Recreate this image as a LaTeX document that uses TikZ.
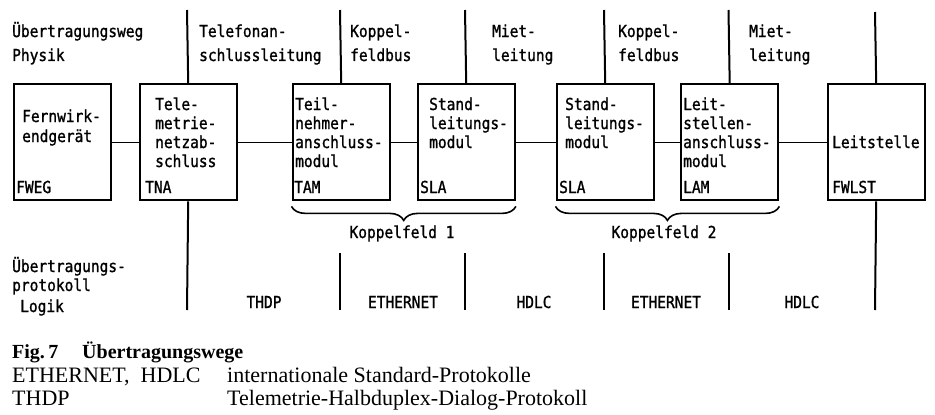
\documentclass[tikz,border=0pt]{standalone}
\usepackage{fontspec}
\setmainfont{Liberation Serif}
\newfontfamily\plotfont[FakeStretch=0.88,FakeBold=1.2]{DejaVu Sans Mono}
\usetikzlibrary{decorations.pathreplacing}

% text block whose reference point is the baseline of its first line
\newcommand{\plotlines}[1]{\begin{tabular}[t]{@{}l@{}}#1\end{tabular}}

\begin{document}
\begin{tikzpicture}[x=1pt,y=-1pt,
  box/.style={draw, line width=2.4pt, minimum width=97pt, minimum height=116pt,
              inner sep=0pt, anchor=north west},
  wire/.style={line width=1.4pt},
  rule/.style={line width=2pt},
  brc/.style={line width=1.6pt, decorate, decoration={brace, mirror, amplitude=14pt}},
  txt/.style={font=\plotfont\fontsize{16.5}{19}\selectfont, inner sep=0pt, anchor=base west},
  head/.style={font=\plotfont\fontsize{16.5}{24}\selectfont, inner sep=0pt, anchor=base west},
  mid/.style={font=\plotfont\fontsize{16.5}{19}\selectfont, inner sep=0pt, anchor=base},
  capb/.style={font=\bfseries\fontsize{20}{24}\selectfont, inner sep=0pt, anchor=base west},
  capr/.style={font=\fontsize{22}{24}\selectfont, inner sep=0pt, anchor=base west}]

\useasboundingbox (0,0) rectangle (935,415);

% boxes
\node[box] (fweg)  at (13,83)    {};
\node[box] (tna)   at (138.5,83) {};
\node[box] (tam)   at (291.5,83) {};
\node[box] (sla1)  at (416.5,83) {};
\node[box] (sla2)  at (555.5,83) {};
\node[box] (lam)   at (680,83)   {};
\node[box] (fwlst) at (826.5,83) {};

% horizontal links between the boxes
\draw[wire] (fweg.east) -- (tna.west);
\draw[wire] (tna.east)  -- (tam.west);
\draw[wire] (tam.east)  -- (sla1.west);
\draw[wire] (sla1.east) -- (sla2.west);
\draw[wire] (sla2.east) -- (lam.west);
\draw[wire] (lam.east)  -- (fwlst.west);

% upper separators (physical paths)
\coordinate (t1) at (187,10);
\coordinate (t2) at (340,10);
\coordinate (t3) at (465,10);
\coordinate (t4) at (604,10);
\coordinate (t5) at (728.5,10);
\coordinate (t6) at (875,12);
\draw[rule] (t1) -- (tna.north);
\draw[rule] (t2) -- (tam.north);
\draw[rule] (t3) -- (sla1.north);
\draw[rule] (t4) -- (sla2.north);
\draw[rule] (t5) -- (lam.north);
\draw[rule] (t6) -- (fwlst.north);

% lower separators (protocols)
\coordinate (b1) at (187,310);
\coordinate (b2a) at (340,253);   \coordinate (b2b) at (340,310);
\coordinate (b3a) at (465,253);   \coordinate (b3b) at (465,310);
\coordinate (b4a) at (604,253);   \coordinate (b4b) at (604,310);
\coordinate (b5a) at (728.5,253); \coordinate (b5b) at (728.5,310);
\coordinate (b6) at (875,310);
\draw[rule] (tna.south) -- (b1);
\draw[rule] (b2a) -- (b2b);
\draw[rule] (b3a) -- (b3b);
\draw[rule] (b4a) -- (b4b);
\draw[rule] (b5a) -- (b5b);
\draw[rule] (fwlst.south) -- (b6);

% braces under the switching fields
\draw[brc] ([yshift=-5pt]tam.south west) -- ([yshift=-5pt]sla1.south east);
\draw[brc] ([yshift=-5pt]sla2.south west) -- ([yshift=-5pt]lam.south east);
\node[mid] (kf1) at (402,238) {Koppelfeld 1};
\node[mid] (kf2) at (664,238) {Koppelfeld 2};

% column headings
\node[head] (hphys) at (12,37)  {\plotlines{Übertragungsweg\\Physik}};
\node[head] (htel)  at (199,37) {\plotlines{Telefonan-\\schlussleitung}};
\node[head] (hkb1)  at (350,37) {\plotlines{Koppel-\\feldbus}};
\node[head] (hml1)  at (492,37) {\plotlines{Miet-\\leitung}};
\node[head] (hkb2)  at (618,37) {\plotlines{Koppel-\\feldbus}};
\node[head] (hml2)  at (749,37) {\plotlines{Miet-\\leitung}};

% box contents
\node[txt] (fweg1)  at (22,122)  {\plotlines{Fernwirk-\\[1pt]endgerät}};
\node[txt] (fweg2)  at (16,193)  {FWEG};
\node[txt] (tna1)   at (155,110) {\plotlines{Tele-\\metrie-\\netzab-\\schluss}};
\node[txt] (tna2)   at (145,193) {TNA};
\node[txt] (tam1)   at (295,110) {\plotlines{Teil-\\nehmer-\\anschluss-\\modul}};
\node[txt] (tam2)   at (294,193) {TAM};
\node[txt] (sla1a)  at (429,110) {\plotlines{Stand-\\leitungs-\\modul}};
\node[txt] (sla1b)  at (420,193) {SLA};
\node[txt] (sla2a)  at (565,110) {\plotlines{Stand-\\leitungs-\\modul}};
\node[txt] (sla2b)  at (559,193) {SLA};
\node[txt] (lam1)   at (683,110) {\plotlines{Leit-\\stellen-\\anschluss-\\modul}};
\node[txt] (lam2)   at (683,193) {LAM};
\node[txt] (fwlst1) at (832,148) {Leitstelle};
\node[txt] (fwlst2) at (832,193) {FWLST};

% protocol row
\node[txt] (hlog)  at (12,272) {\plotlines{Übertragungs-\\protokoll}};
\node[txt] (hlog2) at (20,312) {Logik};
\node[mid] (p1) at (264,308) {THDP};
\node[mid] (p2) at (403,308) {ETHERNET};
\node[mid] (p3) at (534,308) {HDLC};
\node[mid] (p4) at (666,308) {ETHERNET};
\node[mid] (p5) at (802,308) {HDLC};

% caption and legend
\node[capb] (fig)  at (12,358)  {Fig.\,7};
\node[capb] (figt) at (82,358)  {Übertragungswege};
\node[capr] (l1a)  at (12,382)  {ETHERNET,\ \ HDLC};
\node[capr] (l1b)  at (227,382) {internationale Standard-Protokolle};
\node[capr] (l2a)  at (12,405)  {THDP};
\node[capr] (l2b)  at (227,405) {Telemetrie-Halbduplex-Dialog-Protokoll};

\end{tikzpicture}
\end{document}
